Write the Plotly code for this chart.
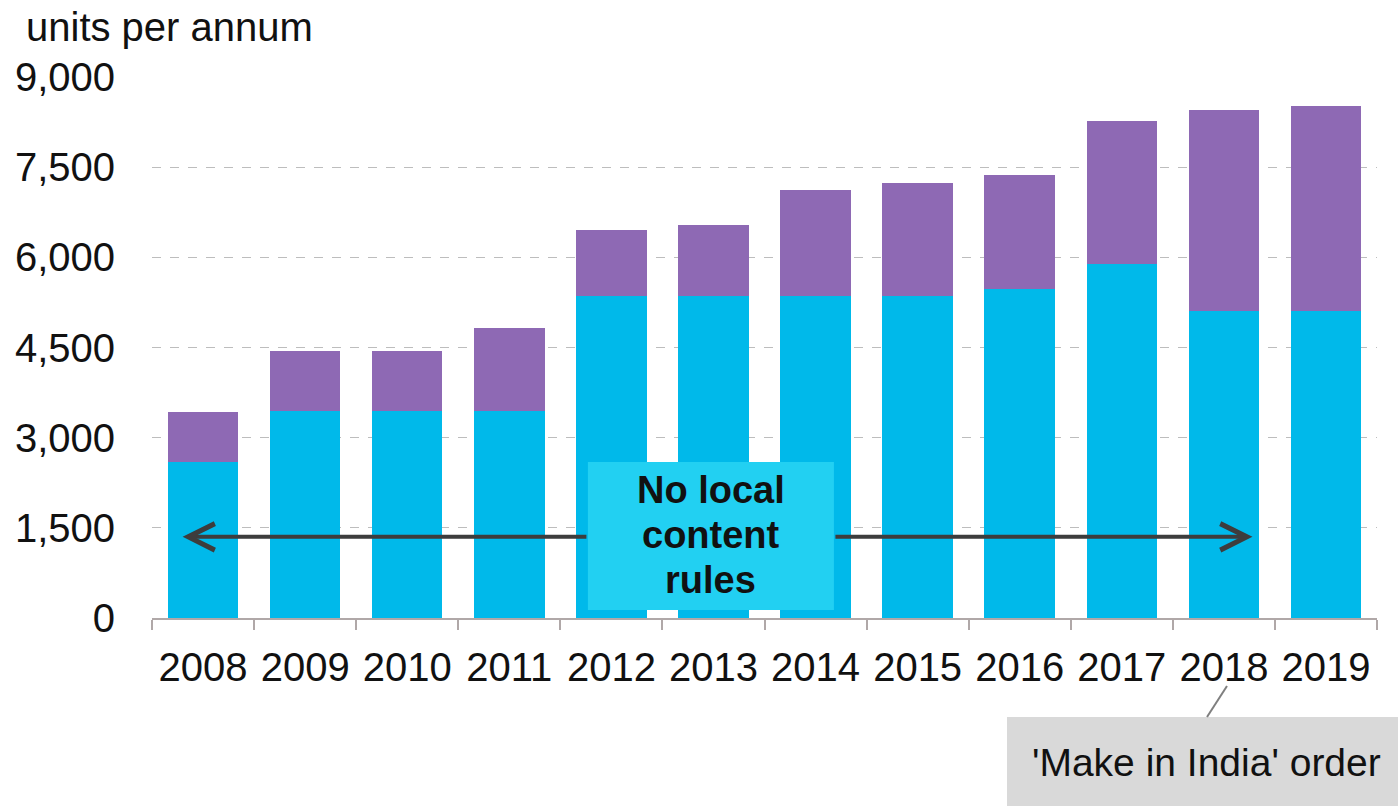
import plotly.graph_objects as go

years = ["2008", "2009", "2010", "2011", "2012", "2013", "2014", "2015", "2016", "2017", "2018", "2019"]
base_units = [2600, 3450, 3450, 3450, 5350, 5350, 5350, 5350, 5470, 5890, 5100, 5100]
total_units = [3430, 4450, 4450, 4830, 6460, 6540, 7120, 7240, 7370, 8270, 8450, 8520]
extra_units = [t - b for t, b in zip(total_units, base_units)]
y_ticks = [0, 1500, 3000, 4500, 6000, 7500, 9000]

CYAN = "#00B9EA"
PURPLE = "#8E69B4"
FONT = "Liberation Sans, Arial, sans-serif"

fig = go.Figure()
fig.add_trace(go.Bar(x=years, y=base_units, marker=dict(color=CYAN, line=dict(width=0)), name="base"))
fig.add_trace(go.Bar(x=years, y=extra_units, marker=dict(color=PURPLE, line=dict(width=0)), name="extra"))

fig.update_layout(
    barmode="stack",
    bargap=0.31,
    width=1398, height=807,
    margin=dict(l=152, r=21, t=77, b=189),
    plot_bgcolor="white", paper_bgcolor="white",
    showlegend=False,
    font=dict(family=FONT, size=40, color="#111111"),
)
fig.update_yaxes(
    range=[0, 9000], tickvals=y_ticks, tickformat=",",
    showgrid=True, gridcolor="#bdbdbd", griddash="dash", gridwidth=1,
    showline=False, zeroline=False, ticks="", ticklabelstandoff=36,
    tickfont=dict(size=40, family=FONT, color="#111111"),
)
fig.update_xaxes(
    showline=True, linecolor="#b0a8a8", linewidth=2,
    ticks="outside", tickson="boundaries", ticklen=10, tickcolor="#b0a8a8", tickwidth=2,
    tickfont=dict(size=40, family=FONT, color="#111111"), ticklabelstandoff=13,
)

# title
fig.add_annotation(text="units per annum", xref="paper", yref="paper",
                   x=(24 - 152) / 1225, y=1 + (77 - 27) / 541, xanchor="left", yanchor="middle",
                   showarrow=False, font=dict(size=40, family=FONT, color="#111111"))

# No local content rules box
fig.add_shape(type="rect", xref="x", yref="y", x0=3.77, x1=6.18, y0=133, y1=2596,
              fillcolor="#22D0F2", line=dict(width=0), layer="above")
for txt, yy in [("No local", 490), ("content", 535), ("rules", 580)]:
    fig.add_annotation(text="<b>" + txt + "</b>", xref="x", yref="paper", x=4.975,
                       y=(618 - yy) / 541, showarrow=False, xanchor="center", yanchor="middle",
                       font=dict(size=38, family=FONT, color="#111111"))

# arrows
ARROW_Y = 1350
fig.add_annotation(x=-0.2, y=ARROW_Y, ax=3.77, ay=ARROW_Y, xref="x", yref="y", axref="x", ayref="y",
                   text="", showarrow=True, arrowhead=5, arrowsize=1.3, arrowwidth=4, arrowcolor="#3d3d3d")
fig.add_annotation(x=10.28, y=ARROW_Y, ax=6.18, ay=ARROW_Y, xref="x", yref="y", axref="x", ayref="y",
                   text="", showarrow=True, arrowhead=5, arrowsize=1.3, arrowwidth=4, arrowcolor="#3d3d3d")

# Make in India box
fig.add_shape(type="rect", xref="paper", yref="paper",
              x0=(1007 - 152) / 1225, x1=(1400 - 152) / 1225,
              y0=(618 - 806) / 541, y1=(618 - 717) / 541,
              fillcolor="#d9d9d9", line=dict(width=0))
fig.add_shape(type="line", xref="paper", yref="paper",
              x0=(1207 - 152) / 1225, y0=(618 - 717) / 541,
              x1=(1227 - 152) / 1225, y1=(618 - 686) / 541,
              line=dict(color="#7f7f7f", width=2))
fig.add_annotation(text="'Make in India' order", xref="paper", yref="paper",
                   x=(1206 - 152) / 1225, y=(618 - 762) / 541, xanchor="center", yanchor="middle",
                   showarrow=False, font=dict(size=39, family=FONT, color="#111111"))

fig.write_html("out.html")
